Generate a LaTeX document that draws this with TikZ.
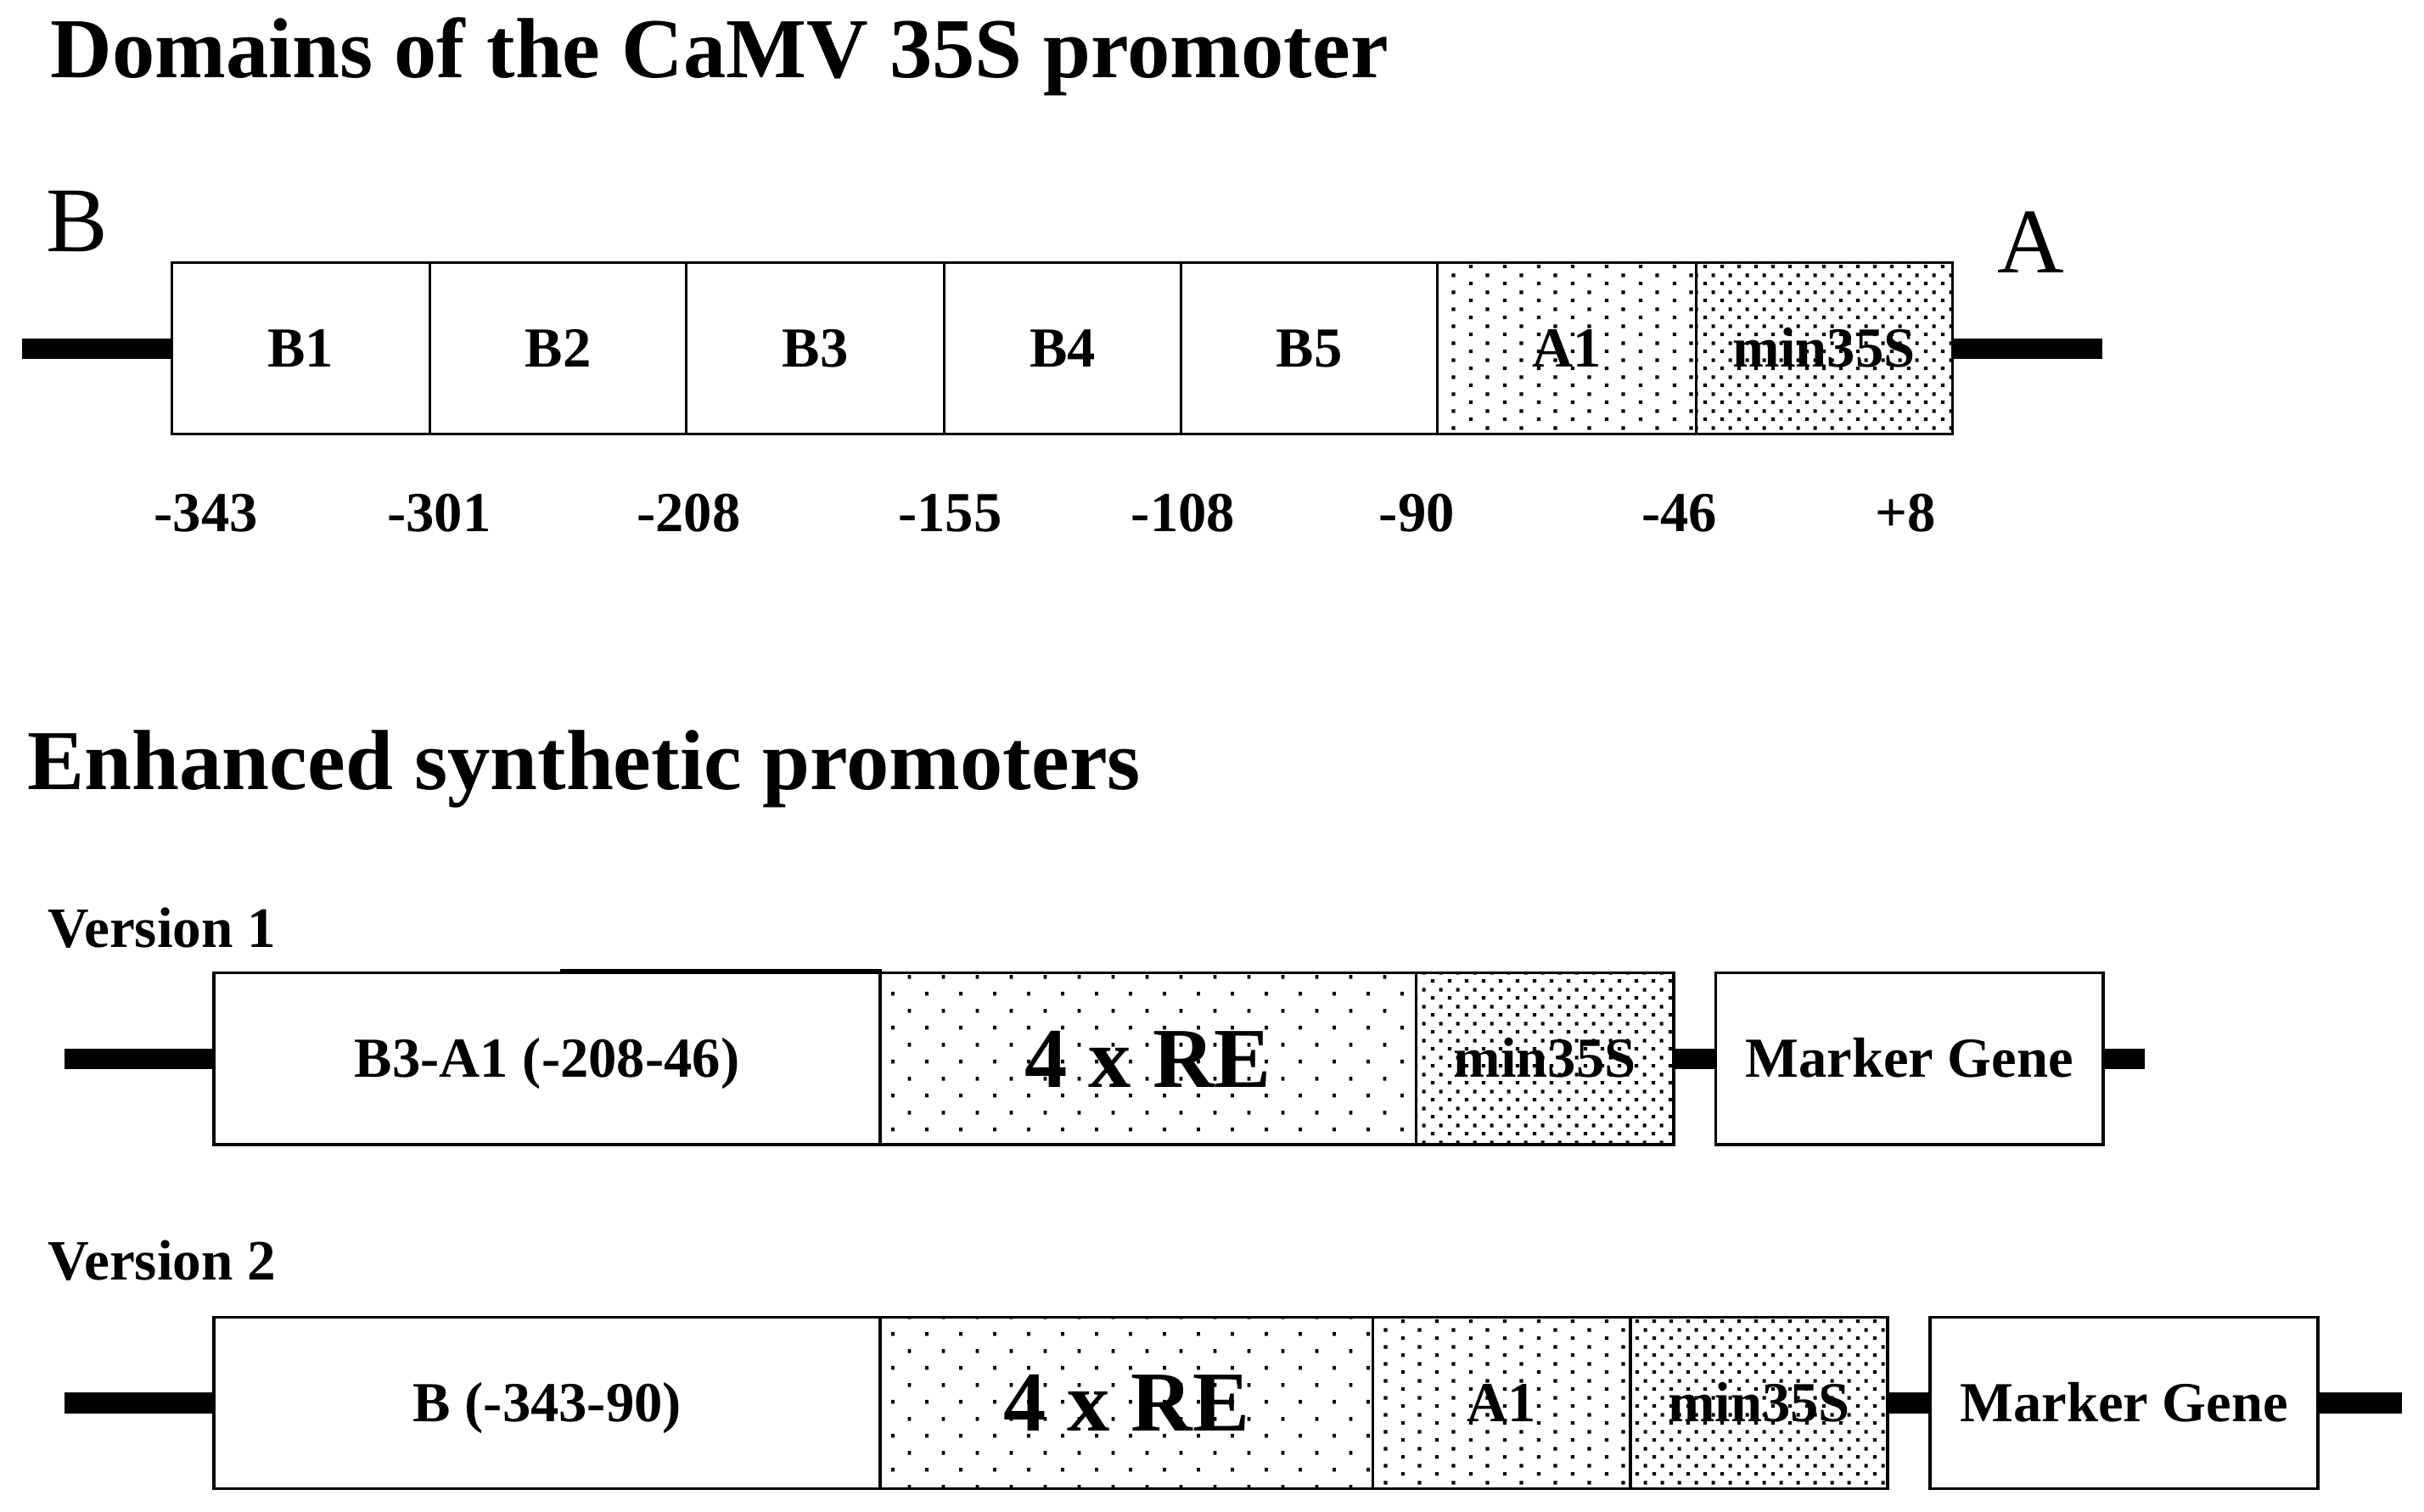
\documentclass[tikz,border=0pt]{standalone}
\usepackage{fontspec}
\setmainfont{Liberation Serif}
\usetikzlibrary{patterns}

% sparse dots (4 x RE)
\pgfdeclarepatternformonly{redots}{\pgfpointorigin}{\pgfpoint{0.22cm}{0.22cm}}{\pgfpoint{0.22cm}{0.22cm}}{%
  \pgfpathrectangle{\pgfpoint{0.045cm}{0.043cm}}{\pgfpoint{0.021cm}{0.025cm}}%
  \pgfpathrectangle{\pgfpoint{0.155cm}{0.153cm}}{\pgfpoint{0.021cm}{0.025cm}}%
  \pgfusepath{fill}}
% medium dots (A1)
\pgfdeclarepatternformonly{aonedots}{\pgfpointorigin}{\pgfpoint{0.22cm}{0.11cm}}{\pgfpoint{0.22cm}{0.11cm}}{%
  \pgfpathrectangle{\pgfpoint{0.044cm}{0.016cm}}{\pgfpoint{0.024cm}{0.024cm}}%
  \pgfpathrectangle{\pgfpoint{0.154cm}{0.071cm}}{\pgfpoint{0.024cm}{0.024cm}}%
  \pgfusepath{fill}}
% dense dots (min35S)
\pgfdeclarepatternformonly{mindots}{\pgfpointorigin}{\pgfpoint{0.11cm}{0.11cm}}{\pgfpoint{0.11cm}{0.11cm}}{%
  \pgfpathrectangle{\pgfpoint{0.017cm}{0.016cm}}{\pgfpoint{0.024cm}{0.024cm}}%
  \pgfpathrectangle{\pgfpoint{0.072cm}{0.071cm}}{\pgfpoint{0.024cm}{0.024cm}}%
  \pgfusepath{fill}}

\begin{document}
\begin{tikzpicture}[x=0.01cm,y=-0.01cm,
  seg/.style={draw, line width=0.45pt, rectangle, inner sep=0pt,
    minimum height=1.11cm, text height=6.9pt, text depth=0pt,
    font=\bfseries\fontsize{10.4}{12}\selectfont},
  segv/.style={seg, line width=0.55pt},
  plain/.style={fill=white},
  re/.style={pattern=redots},
  aone/.style={pattern=aonedots},
  mins/.style={pattern=mindots},
  big/.style={text height=10.4pt, font=\bfseries\fontsize{15.7}{18}\selectfont},
  dna/.style={line width=3.8pt},
  title/.style={inner sep=0pt, anchor=base west, font=\bfseries\fontsize{15.7}{18}\selectfont},
  endlbl/.style={inner sep=0pt, anchor=base, font=\fontsize{17}{20}\selectfont},
  num/.style={inner sep=0pt, anchor=base, font=\bfseries\fontsize{10.4}{12}\selectfont},
  ver/.style={inner sep=0pt, anchor=base west, font=\bfseries\fontsize{10.5}{12}\selectfont}]

\fill[white] (0,0) rectangle (1568,978);
\useasboundingbox (0,0) rectangle (1568,978);

% ---------- titles ----------
\node[title] (t1) at (32,50) {Domains of the CaMV 35S promoter};
\node[title] (t2) at (17.3,510.6) {Enhanced synthetic promoters};

% ---------- CaMV 35S promoter ----------
\node[endlbl, anchor=base west] (lblB) at (29,162.6) {B};
\node[endlbl] (lblA) at (1313.5,176.7) {A};

\node[seg, plain, minimum width=1.67cm] (b1) at (194.5,225.5) {B1};
\node[seg, plain, minimum width=1.66cm] (b2) at (361,225.5) {B2};
\node[seg, plain, minimum width=1.67cm] (b3) at (527.5,225.5) {B3};
\node[seg, plain, minimum width=1.53cm] (b4) at (687.5,225.5) {B4};
\node[seg, plain, minimum width=1.66cm] (b5) at (847,225.5) {B5};
\node[seg, aone, minimum width=1.67cm] (a1) at (1013.5,225.5) {A1};
\node[seg, mins, minimum width=1.66cm] (m0) at (1180,225.5) {min35S};

\coordinate (l0) at (14,225.5);
\coordinate (r0) at (1360,225.5);
\draw[dna] (l0) -- (b1.west);
\draw[dna] (m0.east) -- (r0);

\node[num] (n1) at (133.2,344.1) {-343};
\node[num] (n2) at (284,344.1) {-301};
\node[num] (n3) at (445.5,344.1) {-208};
\node[num] (n4) at (614.5,344.1) {-155};
\node[num] (n5) at (765.3,344.1) {-108};
\node[num] (n6) at (916.5,344.1) {-90};
\node[num] (n7) at (1086.4,344.1) {-46};
\node[num] (n8) at (1232.8,344.1) {+8};

% ---------- Version 1 ----------
\node[ver] (v1) at (30.5,612.8) {Version 1};
\node[segv, plain, minimum width=4.308cm] (v1b) at (353.9,685) {B3-A1 (-208-46)};
\node[segv, re, big, minimum width=3.467cm] (v1re) at (742.65,685) {4 x RE};
\node[segv, mins, minimum width=1.666cm] (v1m) at (999.3,685) {min35S};
\node[segv, plain, minimum width=2.506cm] (v1g) at (1235.1,685) {Marker Gene};
\draw[line width=0.75pt] ([shift={(0,-0.3)}]v1b.north east) -- ++(-208.3,0);

\coordinate (l1) at (41.6,685);
\coordinate (r1) at (1387.5,685);
\draw[dna] (l1) -- (v1b.west);
\draw[dna] (v1m.east) -- (v1g.west);
\draw[dna] (v1g.east) -- (r1);

% ---------- Version 2 ----------
\node[ver] (v2) at (30.5,828) {Version 2};
\node[segv, plain, minimum width=4.31cm] (v2b) at (354,907.75) {B (-343-90)};
\node[segv, re, big, minimum width=3.185cm] (v2re) at (728.75,907.75) {4 x RE};
\node[segv, aone, minimum width=1.665cm] (v2a) at (971.25,907.75) {A1};
\node[segv, mins, minimum width=1.666cm] (v2m) at (1137.8,907.75) {min35S};
\node[segv, plain, minimum width=2.509cm] (v2g) at (1373.95,907.75) {Marker Gene};

\coordinate (l2) at (41.6,907.75);
\coordinate (r2) at (1553.8,907.75);
\draw[dna] (l2) -- (v2b.west);
\draw[dna] (v2m.east) -- (v2g.west);
\draw[dna] (v2g.east) -- (r2);

\end{tikzpicture}
\end{document}
